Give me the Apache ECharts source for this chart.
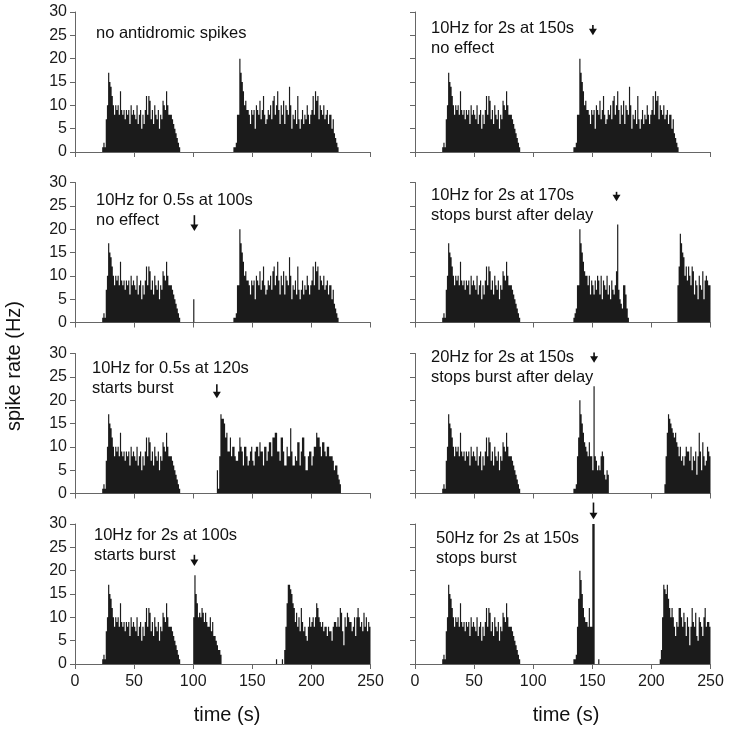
<!DOCTYPE html>
<html>
<head>
<meta charset="utf-8">
<script src="https://cdn.jsdelivr.net/npm/echarts@6/dist/echarts.min.js"></script>
<style>
html,body{margin:0;padding:0;background:#fff;}
#chart{width:729px;height:732px;}
</style>
</head>
<body>
<div id="chart"></div>
<script>
// ---------------- DATA (spike rate, Hz, per 1 s bin) ----------------
// Control burst present in every panel (starts at 23 s)
const burstAStart = 23;
const burstA = [1,2,1,7,10,17,15,14,12,10,8,10,9,10,8,13,9,8,9,7,9,8,9,6,10,8,9,8,7,10,6,8,9,5,8,6,9,12,8,12,11,7,9,6,10,8,7,9,5,8,7,11,10,9,13,10,8,8,8,7,6,5,4,3,2,1];

// Second burst, unaffected (starts at 134 s)
const burstBStart = 134;
const burstB = [1,1,2,8,8,20,17,15,13,10,11,9,9,8,6,9,8,9,5,10,9,8,11,7,9,12,8,6,7,9,8,10,7,11,12,8,10,13,9,6,10,8,11,6,10,9,8,14,10,5,8,7,9,6,12,7,5,7,9,6,8,7,10,8,6,8,9,12,8,13,11,12,7,10,9,8,10,7,8,9,6,8,8,5,7,4,3,2,1];

// 10Hz 0.5s at 100s: single evoked bin
const stim100Start = 100;
const stim100 = [5];

// 10Hz 2s at 170s: burst stopped after delay (starts 134 s) and next burst (222 s)
const burstCStart = 134;
const burstC = [1,2,3,8,8,20,17,15,13,11,10,10,8,10,6,9,8,6,9,7,10,9,6,10,5,9,8,7,10,6,8,5,9,7,6,8,11,21,7,5,4,3,8,8,6,3,1];
const burstDStart = 222;
const burstD = [8,12,19,17,15,14,10,12,9,12,10,8,12,11,6,9,8,5,10,8,7,11,5,9,10,9,8,8];

// 10Hz 0.5s at 120s: burst started (120 s)
const burstEStart = 120;
const burstE = [5,1,8,17,16,16,15,12,13,9,9,12,8,10,10,8,7,7,9,12,10,9,6,10,10,8,6,7,9,10,7,6,9,10,10,8,11,9,9,6,10,10,7,9,11,11,8,12,12,13,13,9,9,7,12,12,9,6,6,10,8,8,14,9,6,6,8,7,11,11,6,9,12,12,8,5,5,8,9,9,6,8,10,10,13,12,12,10,8,11,11,9,8,10,10,8,8,8,7,5,6,6,4,3,2];

// 20Hz 2s at 150s: burst stopped after delay (134 s) and next burst (211 s)
const burstFStart = 134;
const burstF = [1,1,2,8,12,20,17,15,13,11,10,9,8,11,8,8,5,23,8,7,5,6,5,8,9,8,4,3,5,4];
const burstGStart = 211;
const burstG = [2,8,13,17,16,15,14,13,12,13,11,10,8,10,7,8,6,8,10,9,9,7,10,5,8,7,9,4,8,13,9,5,11,8,6,7,10,9,8];

// 10Hz 2s at 100s: burst started (100 s), stray spikes, next burst (177 s)
const burstHStart = 100;
const burstH = [10,19,15,13,10,11,10,12,11,9,11,9,8,8,10,7,9,6,6,5,4,3,3,2];
const straySpikes7 = [[170,1],[175,1]];
const burstIStart = 177;
const burstI = [3,8,13,17,17,16,15,13,12,9,11,8,10,7,12,9,7,8,6,5,8,10,8,9,10,8,10,13,12,10,9,8,9,7,8,8,6,8,7,7,5,8,9,9,8,10,8,12,11,7,4,10,8,11,10,9,9,7,8,10,6,10,12,10,8,9,7,11,8,10,7,9,8];

// 50Hz 2s at 150s: burst stopped (134 s), stray spike, next burst (207 s)
const burstJStart = 134;
const burstJ = [1,1,2,8,14,20,18,15,12,10,9,9,8,12,8,8,30,30];
const straySpikes8 = [[155,1]];
const burstKStart = 207;
const burstK = [1,3,10,17,16,15,17,14,12,10,12,10,8,6,9,8,12,12,10,8,11,9,6,10,8,4,8,12,9,8,11,6,5,10,9,8,6,10,12,8,9,9,8];

// Panels in reading order (row by row, left then right)
const panelNotes = [
  'no antidromic spikes',
  '10Hz for 2s at 150s\nno effect',
  '10Hz for 0.5s at 100s\nno effect',
  '10Hz for 2s at 170s\nstops burst after delay',
  '10Hz for 0.5s at 120s\nstarts burst',
  '20Hz for 2s at 150s\nstops burst after delay',
  '10Hz for 2s at 100s\nstarts burst',
  '50Hz for 2s at 150s\nstops burst'
];
const panelSegments = [
  [[burstAStart, burstA], [burstBStart, burstB]],
  [[burstAStart, burstA], [burstBStart, burstB]],
  [[burstAStart, burstA], [stim100Start, stim100], [burstBStart, burstB]],
  [[burstAStart, burstA], [burstCStart, burstC], [burstDStart, burstD]],
  [[burstAStart, burstA], [burstEStart, burstE]],
  [[burstAStart, burstA], [burstFStart, burstF], [burstGStart, burstG]],
  [[burstAStart, burstA], [burstHStart, burstH], [burstIStart, burstI]],
  [[burstAStart, burstA], [burstJStart, burstJ], [burstKStart, burstK]]
];
const panelStray = [[], [], [], [], [], [], straySpikes7, straySpikes8];

// Stimulus arrows: time (s), arrow top and tip (in Hz units)
const arrowTime = [null, 150.5, 101, 170.5, 120, 151.5, 101, 151];
const arrowTop  = [null, 27.2, 23.0, 28.0, 23.4, 30.2, 23.4, 34.6];
const arrowTip  = [null, 25.0, 19.6, 26.0, 20.4, 28.0, 21.0, 31.0];

// Axis ranges
const timeMax = 250, timeStep = 50;
const rateMax = 30, rateStep = 5;

// ---------------- LAYOUT / STYLE ----------------
const FONT = '"Liberation Sans", Arial, sans-serif';
const colLeft = [75, 415];
const rowTop = [12, 182.5, 353.5, 524];
const plotW = 295.5, plotH = 140;
const axisColor = '#666';
const barColor = '#1b1b1b';
const notePos = [[96,33],[431,28],[96,200],[431,195],[92,368],[431,357],[94,535],[436,538]];

const grids = [], xAxes = [], yAxes = [], series = [], graphics = [];
for (let p = 0; p < 8; p++) {
  const col = p % 2, row = Math.floor(p / 2);
  grids.push({left: colLeft[col], top: rowTop[row], width: plotW, height: plotH, containLabel: false});
  xAxes.push({
    type: 'value', gridIndex: p, min: 0, max: timeMax, interval: timeStep,
    axisLine: {show: true, onZero: false, lineStyle: {color: axisColor, width: 1}},
    axisTick: {show: true, inside: false, length: 5, lineStyle: {color: axisColor, width: 1}},
    axisLabel: {show: row === 3, fontSize: 16, color: '#1a1a1a', margin: 10, fontFamily: FONT},
    splitLine: {show: false}
  });
  yAxes.push({
    type: 'value', gridIndex: p, min: 0, max: rateMax, interval: rateStep,
    axisLine: {show: true, lineStyle: {color: axisColor, width: 1}},
    axisTick: {show: true, inside: false, length: 5, lineStyle: {color: axisColor, width: 1}},
    axisLabel: {show: col === 0, fontSize: 16, color: '#1a1a1a', margin: 8, fontFamily: FONT},
    splitLine: {show: false}
  });
  const data = [];
  panelSegments[p].forEach(([start, arr]) => {
    arr.forEach((v, i) => { if (v > 0) data.push([start + i + 0.5, v]); });
  });
  panelStray[p].forEach(([t, v]) => data.push([t + 0.5, v]));
  data.sort((a, b) => a[0] - b[0]);
  series.push({
    type: 'bar', xAxisIndex: p, yAxisIndex: p, data: data,
    large: true, largeThreshold: 10,
    barWidth: '100%', itemStyle: {color: barColor}, silent: true, animation: false
  });
  if (arrowTime[p] !== null) {
    series.push({
      type: 'custom', xAxisIndex: p, yAxisIndex: p, clip: false, silent: true, animation: false,
      data: [[arrowTime[p], arrowTop[p], arrowTip[p]]],
      renderItem: function (params, api) {
        const top = api.coord([api.value(0), api.value(1)]);
        const tip = api.coord([api.value(0), api.value(2)]);
        return {
          type: 'group',
          children: [
            {type: 'line', shape: {x1: top[0], y1: top[1], x2: tip[0], y2: tip[1] - 4},
             style: {stroke: '#111', lineWidth: 1.6}},
            {type: 'polygon', shape: {points: [[tip[0] - 4, tip[1] - 6.5], [tip[0] + 4, tip[1] - 6.5], [tip[0], tip[1]]]},
             style: {fill: '#111'}}
          ]
        };
      }
    });
  }
  graphics.push({
    type: 'text', x: notePos[p][0], y: notePos[p][1] - 10, silent: true,
    style: {text: panelNotes[p], font: '16.5px ' + FONT, fill: '#111', lineHeight: 20,
            textVerticalAlign: 'top', verticalAlign: 'top'}
  });
}
graphics.push({
  type: 'text', x: 227, y: 715, silent: true,
  style: {text: 'time (s)', font: '20px ' + FONT, fill: '#111', textAlign: 'center', textVerticalAlign: 'middle', align: 'center', verticalAlign: 'middle'}
});
graphics.push({
  type: 'text', x: 566, y: 715, silent: true,
  style: {text: 'time (s)', font: '20px ' + FONT, fill: '#111', textAlign: 'center', textVerticalAlign: 'middle', align: 'center', verticalAlign: 'middle'}
});
graphics.push({
  type: 'text', x: 14, y: 366, rotation: Math.PI / 2, silent: true,
  style: {text: 'spike rate (Hz)', font: '20px ' + FONT, fill: '#111', textAlign: 'center', textVerticalAlign: 'middle', align: 'center', verticalAlign: 'middle'}
});

const chart = echarts.init(document.getElementById('chart'));
chart.setOption({
  animation: false,
  backgroundColor: '#fff',
  grid: grids, xAxis: xAxes, yAxis: yAxes, series: series, graphic: graphics
});
</script>
</body>
</html>
